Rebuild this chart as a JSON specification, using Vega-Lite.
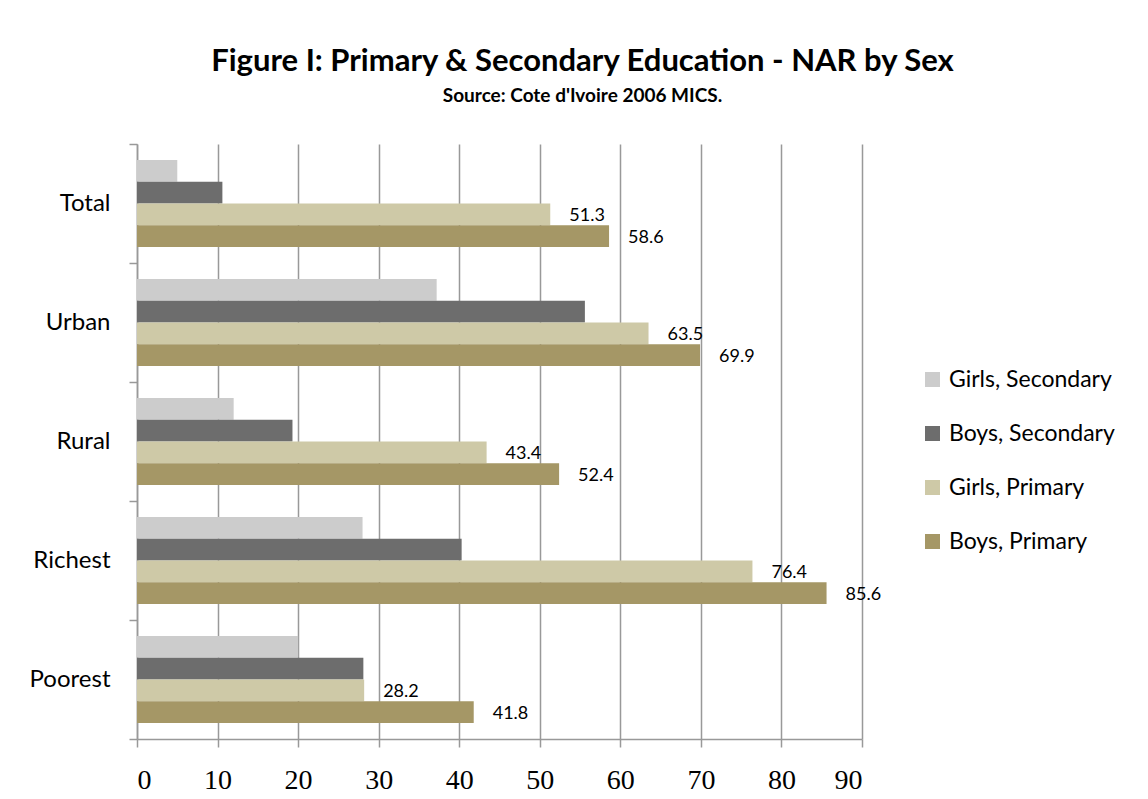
{
  "$schema": "https://vega.github.io/schema/vega-lite/v6.json",
  "width": 725,
  "height": 595,
  "autosize": {"type": "none"},
  "padding": {"left": 137, "top": 144, "right": 286, "bottom": 60},
  "background": "white",
  "config": {"view": {"stroke": null}},
  "title": {
    "text": "Figure I: Primary & Secondary Education - NAR by Sex",
    "subtitle": "Source: Cote d'Ivoire 2006 MICS.",
    "font": "Lato",
    "fontSize": 31,
    "fontWeight": "bold",
    "color": "black",
    "subtitleFont": "Lato",
    "subtitleFontSize": 19,
    "subtitleFontWeight": "bold",
    "subtitleColor": "black",
    "subtitlePadding": 9,
    "anchor": "middle",
    "frame": "group",
    "dx": 83,
    "offset": 25
  },
  "data": {
    "values": [
      {"area": "Total", "series": "Girls, Secondary", "value": 5.0},
      {"area": "Total", "series": "Boys, Secondary", "value": 10.6},
      {"area": "Total", "series": "Girls, Primary", "value": 51.3},
      {"area": "Total", "series": "Boys, Primary", "value": 58.6},
      {"area": "Urban", "series": "Girls, Secondary", "value": 37.2},
      {"area": "Urban", "series": "Boys, Secondary", "value": 55.6},
      {"area": "Urban", "series": "Girls, Primary", "value": 63.5},
      {"area": "Urban", "series": "Boys, Primary", "value": 69.9},
      {"area": "Rural", "series": "Girls, Secondary", "value": 12.0},
      {"area": "Rural", "series": "Boys, Secondary", "value": 19.3},
      {"area": "Rural", "series": "Girls, Primary", "value": 43.4},
      {"area": "Rural", "series": "Boys, Primary", "value": 52.4},
      {"area": "Richest", "series": "Girls, Secondary", "value": 28.0},
      {"area": "Richest", "series": "Boys, Secondary", "value": 40.3},
      {"area": "Richest", "series": "Girls, Primary", "value": 76.4},
      {"area": "Richest", "series": "Boys, Primary", "value": 85.6},
      {"area": "Poorest", "series": "Girls, Secondary", "value": 20.0},
      {"area": "Poorest", "series": "Boys, Secondary", "value": 28.1},
      {"area": "Poorest", "series": "Girls, Primary", "value": 28.2},
      {"area": "Poorest", "series": "Boys, Primary", "value": 41.8}
    ]
  },
  "encoding": {
    "y": {
      "field": "area",
      "type": "nominal",
      "sort": ["Total", "Urban", "Rural", "Richest", "Poorest"],
      "scale": {"paddingInner": 0, "paddingOuter": 0},
      "axis": {
        "title": null,
        "domainColor": "#999999",
        "domainWidth": 1.5,
        "tickColor": "#999999",
        "tickWidth": 1.5,
        "tickSize": 8,
        "tickBand": "extent",
        "labelFont": "Lato",
        "labelFontSize": 24,
        "labelColor": "black",
        "labelPadding": 19,
        "grid": false
      }
    },
    "yOffset": {
      "field": "series",
      "type": "nominal",
      "sort": ["Girls, Secondary", "Boys, Secondary", "Girls, Primary", "Boys, Primary"],
      "scale": {"paddingInner": 0, "paddingOuter": 0.736}
    },
    "x": {
      "field": "value",
      "type": "quantitative",
      "scale": {"domain": [0, 90], "nice": false},
      "axis": {
        "title": null,
        "values": [0, 10, 20, 30, 40, 50, 60, 70, 80, 90],
        "grid": true,
        "gridColor": "#999999",
        "gridWidth": 1.5,
        "domainColor": "#999999",
        "domainWidth": 1.5,
        "tickColor": "#999999",
        "tickWidth": 1.5,
        "tickSize": 8,
        "labelFont": "Liberation Serif",
        "labelFontSize": 28,
        "labelColor": "black",
        "labelPadding": 19
      }
    }
  },
  "layer": [
    {
      "mark": {"type": "bar"},
      "encoding": {
        "color": {
          "field": "series",
          "type": "nominal",
          "scale": {
            "domain": ["Girls, Secondary", "Boys, Secondary", "Girls, Primary", "Boys, Primary"],
            "range": ["#CCCCCC", "#6D6D6D", "#CEC9A7", "#A59766"]
          },
          "legend": {
            "title": null,
            "orient": "none",
            "legendX": 784,
            "legendY": 224,
            "symbolType": "square",
            "symbolSize": 225,
            "symbolStrokeWidth": 0,
            "labelFont": "Lato",
            "labelFontSize": 23,
            "labelColor": "black",
            "labelOffset": 5,
            "labelLimit": 400,
            "rowPadding": 30
          }
        }
      }
    },
    {
      "transform": [{"filter": "indexof(datum.series, 'Primary') >= 0"}],
      "mark": {"type": "text", "align": "left", "baseline": "middle", "dx": 19, "dy": 2, "font": "Lato", "fontSize": 18, "color": "black"},
      "encoding": {
        "text": {"field": "value", "type": "quantitative", "format": ".1f"}
      }
    }
  ]
}
